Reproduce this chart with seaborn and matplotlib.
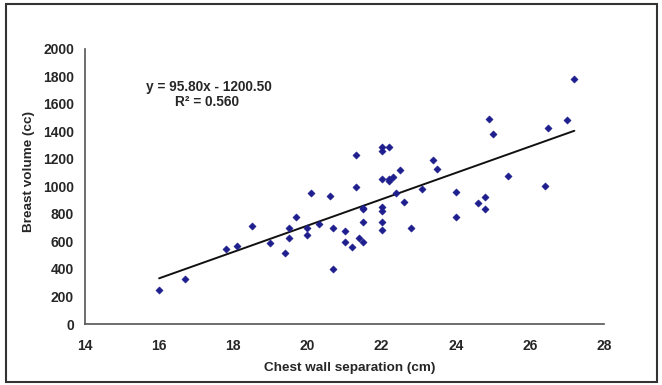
import matplotlib
matplotlib.use("Agg")
import matplotlib.pyplot as plt
import seaborn as sns
import numpy as np
import pandas as pd
from matplotlib.patches import Rectangle

# Data
chest_wall_cm = [16.0, 16.7, 17.8, 18.1, 18.5, 19.0, 19.4, 19.5, 19.5, 19.7,
                 20.0, 20.0, 20.1, 20.3, 20.6, 20.7, 20.7, 21.0, 21.0, 21.2,
                 21.3, 21.3, 21.4, 21.5, 21.5, 21.5, 21.5, 22.0, 22.0, 22.2,
                 22.0, 22.2, 22.2, 22.3, 22.0, 22.0, 22.0, 22.0, 22.4, 22.5,
                 22.6, 22.8, 23.1, 23.4, 23.5, 24.0, 24.0, 24.6, 24.8, 24.8,
                 24.9, 25.0, 25.4, 26.4, 26.5, 27.0, 27.2]
breast_volume_cc = [250, 330, 545, 565, 710, 590, 520, 625, 695, 780,
                    645, 700, 950, 730, 930, 700, 400, 675, 600, 560,
                    1230, 995, 625, 600, 845, 835, 745, 1285, 1260, 1285,
                    1055, 1055, 1040, 1070, 850, 820, 745, 685, 955, 1120,
                    885, 695, 980, 1190, 1125, 960, 780, 880, 925, 835,
                    1490, 1385, 1075, 1005, 1425, 1480, 1780]
slope = 95.80
intercept = -1200.50
r_squared = 0.560
x_ticks = [14, 16, 18, 20, 22, 24, 26, 28]
y_ticks = [0, 200, 400, 600, 800, 1000, 1200, 1400, 1600, 1800, 2000]

sns.set_style("white")
plt.rcParams['font.family'] = ['Liberation Sans', 'DejaVu Sans']

df = pd.DataFrame({"x": chest_wall_cm, "y": breast_volume_cc})
xs = np.array([min(chest_wall_cm), max(chest_wall_cm)])
fit = pd.DataFrame({"x": xs, "y": slope * xs + intercept})

fig = plt.figure(figsize=(6.62, 3.85), dpi=100)
ax = fig.add_axes([85/662, 1 - 324/385, (604-85)/662, (324-49)/385])

sns.scatterplot(data=df, x="x", y="y", ax=ax, marker="D", s=14,
                color="#1E1E8E", edgecolor="#1E1E8E", linewidth=0.3, zorder=3)
sns.lineplot(data=fit, x="x", y="y", ax=ax, color="#111111", linewidth=1.4,
             zorder=2)

ax.set_xlim(14, 28)
ax.set_ylim(0, 2000)
ax.set_xticks(x_ticks)
ax.set_yticks(y_ticks)
ax.set_xticklabels([str(t) for t in x_ticks], fontsize=10, fontweight="bold")
ax.set_yticklabels([str(t) for t in y_ticks], fontsize=10, fontweight="bold")
ax.tick_params(axis="both", direction="out", length=4, width=1,
               color="#555555", pad=4)
ax.tick_params(axis="x", pad=7)
for s in ["top", "right"]:
    ax.spines[s].set_visible(False)
for s in ["left", "bottom"]:
    ax.spines[s].set_color("#555555")
    ax.spines[s].set_linewidth(1.2)

ax.set_xlabel("Chest wall separation (cm)", fontsize=9.7, fontweight="bold")
ax.set_ylabel("Breast volume (cc)", fontsize=9.7, fontweight="bold")
ax.xaxis.set_label_coords((350 - 85) / 519, -(362 - 324) / 275)
ax.yaxis.set_label_coords(-(85 - 35) / 519, (324 - 172) / 275)

ax.text(17.35, 1726, f"y = {slope:.2f}x - {abs(intercept):.2f}", fontsize=9.8,
        fontweight="bold", ha="center", va="center")
ax.text(17.3, 1617, f"R² = {r_squared:.3f}", fontsize=9.8,
        fontweight="bold", ha="center", va="center")

fig.patches.append(Rectangle((6/662, 3/385), 651/662, 378/385,
                             transform=fig.transFigure, fill=False,
                             edgecolor="#333333", linewidth=1.5))

fig.savefig("out.png", dpi=100)
